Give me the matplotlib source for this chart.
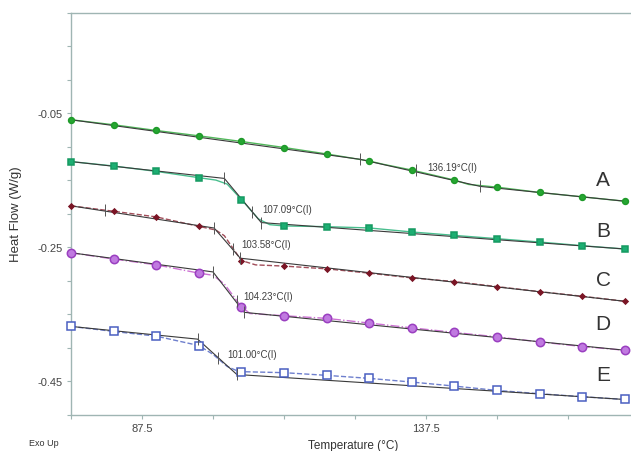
import matplotlib
matplotlib.use("Agg")
import matplotlib.pyplot as plt
import numpy as np

plt.rcParams['font.family'] = ['Liberation Sans', 'DejaVu Sans']

# ---- data ----
temps = [75, 82.5, 90, 97.5, 105, 112.5, 120, 127.5, 135, 142.5, 150, 157.5, 165, 172.5]

A_vals = [-0.060, -0.0675, -0.076, -0.084, -0.0924, -0.1014, -0.111, -0.1215,
          -0.135, -0.150, -0.1605, -0.1685, -0.175, -0.1815]
B_vals = [-0.1224, -0.129, -0.137, -0.1464, -0.179, -0.2184, -0.2195, -0.2214,
          -0.2274, -0.2325, -0.2374, -0.2424, -0.2479, -0.2528]
C_vals = [-0.1884, -0.1965, -0.2049, -0.219, -0.270, -0.2783, -0.2824, -0.2888,
          -0.2959, -0.3014, -0.3089, -0.3164, -0.3233, -0.3308]
D_vals = [-0.2584, -0.2678, -0.2764, -0.2888, -0.3389, -0.3524, -0.3563, -0.3633,
          -0.3704, -0.3773, -0.3839, -0.3914, -0.3983, -0.4038]
E_vals = [-0.3683, -0.3758, -0.3828, -0.3968, -0.4358, -0.4373, -0.4413, -0.4458,
          -0.4513, -0.4573, -0.4638, -0.4687, -0.4732, -0.4773]

# extra points of the measured curves around the glass transition
A_knee_T = [130.0, 145.0]
A_knee_V = [-0.1265, -0.1565]
B_knee_T = [100.5, 102.5, 108.0, 110.0]
B_knee_V = [-0.1500, -0.1560, -0.2080, -0.2165]
C_knee_T = [100.5, 102.0, 107.5]
C_knee_V = [-0.2245, -0.2330, -0.2765]
D_knee_T = [100.0, 102.0, 106.5]
D_knee_V = [-0.2920, -0.3050, -0.3490]
E_knee_T = [100.0, 102.5, 104.5]
E_knee_V = [-0.4100, -0.4280, -0.4355]

# onset / midpoint / end of each transition (tangent construction)
A_onset, A_mid, A_end = (125.9, -0.119), (135.7, -0.1345), (147.1, -0.1595)
B_onset, B_mid, B_end = (102.0, -0.1475), (106.8, -0.1970), (108.5, -0.2134)
C_onset, C_mid, C_end = (100.2, -0.2215), (103.5, -0.2524), (104.8, -0.2665)
D_onset, D_mid, D_end = (100.0, -0.2870), (104.2, -0.3300), (105.5, -0.3473)
E_onset, E_mid, E_end = (97.3, -0.3873), (100.9, -0.4148), (104.2, -0.4400)

glass_labels = ["136.19°C(I)", "107.09°C(I)", "103.58°C(I)", "104.23°C(I)", "101.00°C(I)"]
series_names = ["A", "B", "C", "D", "E"]

x_ticks = [75, 87.5, 100, 112.5, 125, 137.5, 150, 162.5]
x_ticklabels = ["", "87.5", "", "", "", "137.5", "", ""]
y_ticks = [0.1, 0.05, 0.0, -0.05, -0.1, -0.15, -0.2, -0.25, -0.3, -0.35, -0.4, -0.45, -0.5]
y_ticklabels = ["", "", "", "-0.05", "", "", "", "-0.25", "", "", "", "-0.45", ""]

series = [
    dict(vals=A_vals, kT=A_knee_T, kV=A_knee_V, on=A_onset, mid=A_mid, end=A_end,
         color="#26a632", ls="-", marker="o", ms=4.2, mfc="#26a632", mec="#1f9a2a"),
    dict(vals=B_vals, kT=B_knee_T, kV=B_knee_V, on=B_onset, mid=B_mid, end=B_end,
         color="#1cae72", ls="-", marker="s", ms=4.3, mfc="#1cae72", mec="#169a62"),
    dict(vals=C_vals, kT=C_knee_T, kV=C_knee_V, on=C_onset, mid=C_mid, end=C_end,
         color="#8a2030", ls="--", marker="D", ms=2.6, mfc="#7a1525", mec="#7a1525"),
    dict(vals=D_vals, kT=D_knee_T, kV=D_knee_V, on=D_onset, mid=D_mid, end=D_end,
         color="#c050c8", ls="-.", marker="o", ms=6, mfc="#c07ae0", mec="#9a3fc0"),
    dict(vals=E_vals, kT=E_knee_T, kV=E_knee_V, on=E_onset, mid=E_mid, end=E_end,
         color="#4a5fc1", ls="--", marker="s", ms=5.5, mfc="white", mec="#4a5fc1"),
]

label_pos = [(137.7, -0.1306), (108.6, -0.1933), (104.9, -0.2455), (105.3, -0.3231), (102.5, -0.4097)]
name_pos = [(168.7, -0.1485), (168.7, -0.2257), (168.7, -0.2978), (168.7, -0.3634), (168.7, -0.4396)]

fig = plt.figure(figsize=(6.31, 4.52), dpi=100)
ax = fig.add_axes([71 / 631, 1 - 415.7 / 452, (631 - 71) / 631, (415.7 - 13.5) / 452])

for s in series:
    T = list(temps) + list(s["kT"])
    V = list(s["vals"]) + list(s["kV"])
    order = np.argsort(T)
    T = np.array(T)[order]
    V = np.array(V)[order]
    # measured curve (coloured)
    ax.plot(T, V, color=s["color"], ls=s["ls"], lw=1.0, alpha=0.8, zorder=2)
    # tangent construction (dark)
    tx = [temps[0], s["on"][0], s["end"][0], temps[-1]]
    ty = [s["vals"][0], s["on"][1], s["end"][1], s["vals"][-1]]
    ax.plot(tx, ty, color="#3a3a3a", lw=0.8, zorder=3)
    # markers
    ax.plot(temps, s["vals"], ls="none", marker=s["marker"], ms=s["ms"],
            mfc=s["mfc"], mec=s["mec"], mew=1.1, zorder=4, clip_on=False)
    # construction ticks
    for p in (s["on"], s["mid"], s["end"]):
        ax.plot([p[0]], [p[1]], marker="|", ms=8, color="#555555", mew=0.7, zorder=5)

# extra baseline tick on C
ax.plot([81.0], [C_vals[0] + (C_vals[1] - C_vals[0]) * (6.0 / 7.5)], marker="|", ms=8,
        color="#555555", mew=0.7, zorder=5)

for txt, (x, y) in zip(glass_labels, label_pos):
    ax.text(x, y, txt, fontsize=7, color="#404040", ha="left", va="center")
for nm, (x, y) in zip(series_names, name_pos):
    ax.text(x, y, nm, fontsize=15, color="#333333", ha="center", va="center")

ax.set_xlim(75, 173.6)
ax.set_ylim(-0.5, 0.1)
ax.set_xticks(x_ticks)
ax.set_xticklabels(x_ticklabels)
ax.set_yticks(y_ticks)
ax.set_yticklabels(y_ticklabels)

spine_c = "#9fb5b3"
for side in ("left", "bottom", "top"):
    ax.spines[side].set_color(spine_c)
    ax.spines[side].set_linewidth(1.0)
ax.spines["right"].set_visible(False)
ax.tick_params(axis="both", colors=spine_c, labelcolor="#444444", labelsize=8,
               length=3, width=0.8, direction="out", pad=3)

fig.text(16 / 631, 1 - 214 / 452, "Heat Flow (W/g)", rotation=90, fontsize=9.5,
         color="#333333", ha="center", va="center")
fig.text(353 / 631, 1 - 445.7 / 452, "Temperature (°C)", fontsize=8.5,
         color="#333333", ha="center", va="center")
fig.text(29 / 631, 1 - 444 / 452, "Exo Up", fontsize=6.5,
         color="#333333", ha="left", va="center")

fig.savefig("out.png", dpi=100)
